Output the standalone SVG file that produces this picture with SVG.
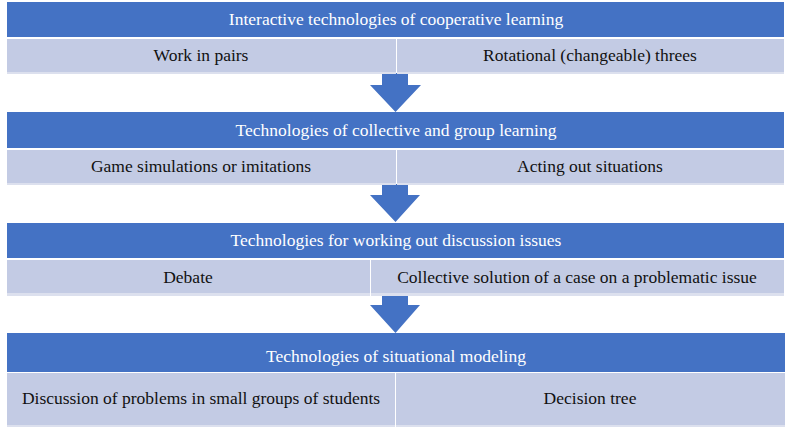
<svg xmlns="http://www.w3.org/2000/svg" width="790" height="431" viewBox="0 0 790 431">
<style>
.hd{fill:#4472C4}
.sb{fill:#C3CBE4}
.sh{fill:#DCE0EE}
.ar{fill:#4472C4}
.ht{fill:#FFFFFF;text-anchor:middle}
.st{fill:#111111;text-anchor:middle}
</style>
<rect width="790" height="431" fill="#FFFFFF"/>
<g id="connectors">
<polygon class="ar" points="382,73 408,73 408,85 421,85 395.5,112 370,85 382,85"/>
<polygon class="ar" points="382,184 408,184 408,195 420,195 395.5,222 370,195 382,195"/>
<polygon class="ar" points="382,295 408,295 408,305 420,305 395.5,333 370,305 382,305"/>
</g>
<g id="node1">
<rect class="hd" x="7" y="2" width="777" height="35"/>
<text class="ht" x="396" y="25" font-family="'Liberation Serif', serif" font-size="17.5">Interactive technologies of cooperative learning</text>
</g>
<g id="node1a">
<rect class="sh" x="7" y="39" width="389" height="35"/>
<rect class="sb" x="7" y="39" width="389" height="33"/>
<text class="st" x="201" y="61" font-family="'Liberation Serif', serif" font-size="17.5">Work in pairs</text>
</g>
<g id="node1b">
<rect class="sh" x="397" y="39" width="387" height="35"/>
<rect class="sb" x="397" y="39" width="387" height="33"/>
<text class="st" x="590" y="61" font-family="'Liberation Serif', serif" font-size="17.5">Rotational (changeable) threes</text>
</g>
<g id="node2">
<rect class="hd" x="7" y="112" width="777" height="36"/>
<text class="ht" x="396" y="136" font-family="'Liberation Serif', serif" font-size="17.5">Technologies of collective and group learning</text>
</g>
<g id="node2a">
<rect class="sh" x="7" y="150" width="389" height="35"/>
<rect class="sb" x="7" y="150" width="389" height="33"/>
<text class="st" x="201" y="172" font-family="'Liberation Serif', serif" font-size="17.5">Game simulations or imitations</text>
</g>
<g id="node2b">
<rect class="sh" x="397" y="150" width="387" height="35"/>
<rect class="sb" x="397" y="150" width="387" height="33"/>
<text class="st" x="590" y="172" font-family="'Liberation Serif', serif" font-size="17.5">Acting out situations</text>
</g>
<g id="node3">
<rect class="hd" x="7" y="223" width="777" height="35"/>
<text class="ht" x="396" y="246" font-family="'Liberation Serif', serif" font-size="17.5">Technologies for working out discussion issues</text>
</g>
<g id="node3a">
<rect class="sh" x="7" y="260" width="363" height="36"/>
<rect class="sb" x="7" y="260" width="363" height="33"/>
<text class="st" x="188" y="283" font-family="'Liberation Serif', serif" font-size="17.5">Debate</text>
</g>
<g id="node3b">
<rect class="sh" x="371" y="260" width="413" height="36"/>
<rect class="sb" x="371" y="260" width="413" height="33"/>
<text class="st" x="577" y="283" font-family="'Liberation Serif', serif" font-size="17.5">Collective solution of a case on a problematic issue</text>
</g>
<g id="node4">
<rect class="hd" x="7" y="333" width="778" height="39"/>
<text class="ht" x="396" y="362" font-family="'Liberation Serif', serif" font-size="17.5">Technologies of situational modeling</text>
</g>
<g id="node4a">
<rect class="sh" x="7" y="373" width="388" height="54"/>
<rect class="sb" x="7" y="373" width="388" height="52"/>
<text class="st" x="201" y="404" font-family="'Liberation Serif', serif" font-size="17.5">Discussion of problems in small groups of students</text>
</g>
<g id="node4b">
<rect class="sh" x="396" y="373" width="389" height="54"/>
<rect class="sb" x="396" y="373" width="389" height="52"/>
<text class="st" x="590" y="404" font-family="'Liberation Serif', serif" font-size="17.5">Decision tree</text>
</g>
</svg>
